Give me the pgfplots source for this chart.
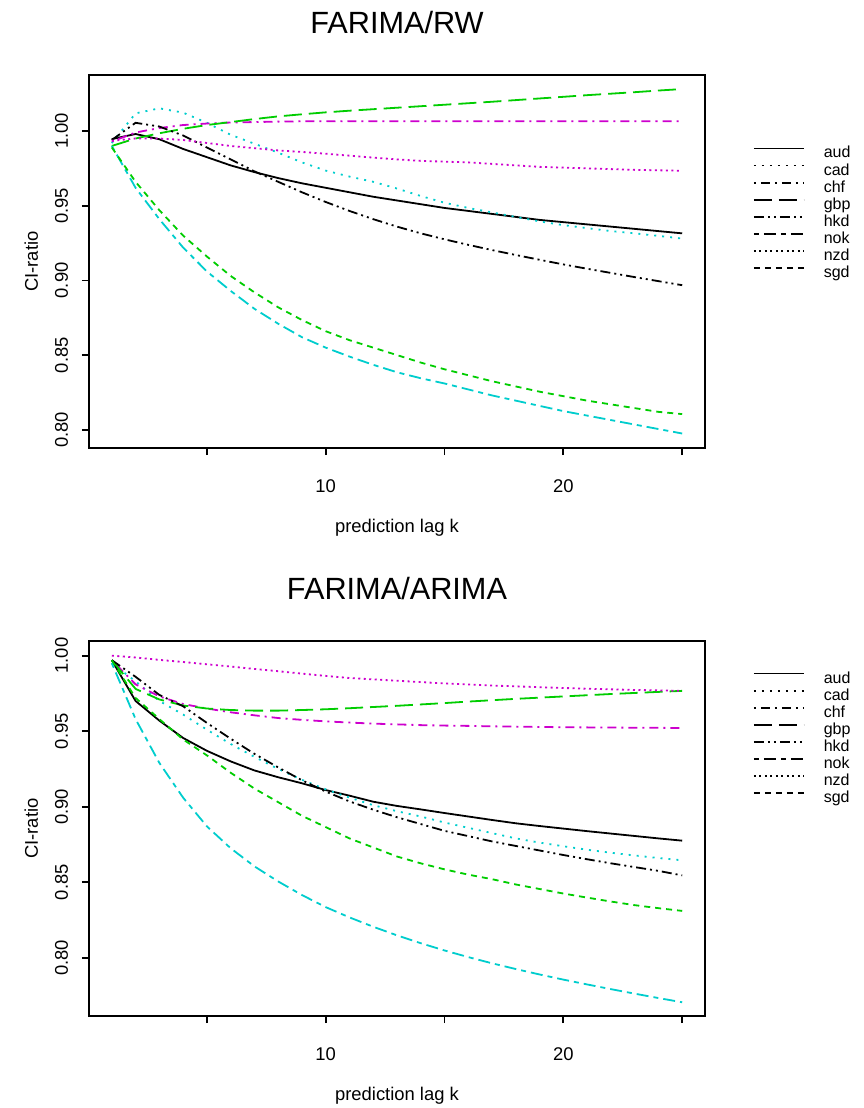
\documentclass[border=0pt]{standalone}
\usepackage{fontspec}
\setmainfont{Liberation Sans}
\usepackage{pgfplots}
\pgfplotsset{compat=1.18}
\usepackage{pgfplotstable}

\definecolor{rgreen}{RGB}{0,205,0}
\definecolor{rcyan}{RGB}{0,205,205}
\definecolor{rmagenta}{RGB}{205,0,205}

% CI-ratio by prediction lag, FARIMA against the random walk
\pgfplotstableread{
k  aud    cad    chf    gbp    hkd    nok    nzd    sgd
1  0.9946 0.9920 0.9930 0.9900 0.9940 0.9900 0.9935 0.9890
2  0.9980 1.0118 0.9990 0.9950 1.0055 0.9620 0.9950 0.9660
3  0.9945 1.0152 1.0020 0.9985 1.0030 0.9410 0.9950 0.9470
4  0.9880 1.0123 1.0040 1.0015 0.9970 0.9220 0.9940 0.9300
5  0.9825 1.0055 1.0050 1.0040 0.9890 0.9060 0.9920 0.9160
6  0.9770 0.9975 1.0057 1.0060 0.9810 0.8930 0.9900 0.9030
7  0.9725 0.9915 1.0060 1.0080 0.9730 0.8810 0.9885 0.8920
8  0.9685 0.9855 1.0063 1.0098 0.9660 0.8710 0.9870 0.8820
9  0.9650 0.9790 1.0065 1.0112 0.9590 0.8620 0.9860 0.8735
10 0.9620 0.9735 1.0065 1.0125 0.9525 0.8550 0.9848 0.8660
11 0.9590 0.9695 1.0066 1.0136 0.9465 0.8490 0.9835 0.8600
12 0.9560 0.9660 1.0066 1.0146 0.9410 0.8435 0.9822 0.8550
13 0.9535 0.9615 1.0066 1.0156 0.9360 0.8385 0.9810 0.8500
14 0.9510 0.9565 1.0066 1.0166 0.9315 0.8345 0.9800 0.8450
15 0.9485 0.9520 1.0066 1.0176 0.9275 0.8310 0.9795 0.8405
16 0.9465 0.9485 1.0066 1.0186 0.9238 0.8270 0.9790 0.8365
17 0.9445 0.9455 1.0066 1.0196 0.9203 0.8230 0.9780 0.8325
18 0.9425 0.9425 1.0066 1.0207 0.9170 0.8195 0.9770 0.8290
19 0.9405 0.9395 1.0066 1.0218 0.9138 0.8160 0.9760 0.8255
20 0.9390 0.9370 1.0066 1.0229 0.9107 0.8125 0.9755 0.8225
21 0.9375 0.9350 1.0066 1.0240 0.9078 0.8095 0.9750 0.8195
22 0.9360 0.9330 1.0066 1.0250 0.9050 0.8065 0.9745 0.8170
23 0.9345 0.9315 1.0066 1.0260 0.9022 0.8035 0.9740 0.8145
24 0.9330 0.9298 1.0066 1.0271 0.8995 0.8005 0.9737 0.8120
25 0.9315 0.9280 1.0066 1.0281 0.8968 0.7975 0.9734 0.8105
}\rwtab

% CI-ratio by prediction lag, FARIMA against ARIMA
\pgfplotstableread{
k  aud    cad    chf    gbp    hkd    nok    nzd    sgd
1  0.9970 0.9950 0.9970 0.9970 0.9970 0.9950 1.0000 0.9970
2  0.9700 0.9830 0.9810 0.9780 0.9860 0.9580 0.9988 0.9720
3  0.9570 0.9700 0.9730 0.9710 0.9740 0.9290 0.9972 0.9580
4  0.9455 0.9610 0.9680 0.9670 0.9665 0.9060 0.9958 0.9445
5  0.9370 0.9510 0.9650 0.9650 0.9555 0.8870 0.9943 0.9340
6  0.9300 0.9415 0.9625 0.9640 0.9450 0.8725 0.9928 0.9225
7  0.9240 0.9330 0.9605 0.9636 0.9350 0.8605 0.9912 0.9120
8  0.9195 0.9250 0.9587 0.9636 0.9260 0.8505 0.9897 0.9030
9  0.9155 0.9178 0.9575 0.9640 0.9175 0.8415 0.9881 0.8940
10 0.9110 0.9115 0.9565 0.9645 0.9100 0.8335 0.9866 0.8865
11 0.9073 0.9060 0.9557 0.9652 0.9035 0.8267 0.9852 0.8790
12 0.9033 0.9010 0.9550 0.9660 0.8980 0.8205 0.9843 0.8730
13 0.9005 0.8970 0.9545 0.9668 0.8930 0.8148 0.9834 0.8670
14 0.8982 0.8935 0.9540 0.9677 0.8885 0.8096 0.9825 0.8625
15 0.8958 0.8895 0.9537 0.9686 0.8840 0.8048 0.9816 0.8585
16 0.8935 0.8860 0.9535 0.9696 0.8805 0.8004 0.9809 0.8550
17 0.8912 0.8825 0.9532 0.9705 0.8770 0.7963 0.9802 0.8520
18 0.8890 0.8790 0.9530 0.9714 0.8740 0.7925 0.9797 0.8485
19 0.8872 0.8762 0.9528 0.9722 0.8710 0.7889 0.9791 0.8455
20 0.8855 0.8738 0.9526 0.9730 0.8680 0.7855 0.9786 0.8425
21 0.8838 0.8715 0.9525 0.9738 0.8652 0.7823 0.9781 0.8398
22 0.8822 0.8695 0.9524 0.9746 0.8625 0.7792 0.9777 0.8372
23 0.8806 0.8677 0.9523 0.9753 0.8600 0.7762 0.9773 0.8348
24 0.8790 0.8660 0.9522 0.9760 0.8575 0.7733 0.9770 0.8328
25 0.8775 0.8645 0.9521 0.9767 0.8545 0.7705 0.9767 0.8310
}\arimatab

% line types of the eight currencies
\tikzset{
  lw/.style={line width=1.8bp},
  lty-aud/.style={solid},
  lty-cad/.style={dash pattern=on 2bp off 6bp},
  lty-chf/.style={dash pattern=on 2bp off 5bp on 9bp off 5bp},
  lty-gbp/.style={dash pattern=on 18bp off 7bp},
  lty-hkd/.style={dash pattern=on 10bp off 4bp on 2bp off 4bp on 2bp off 4bp},
  lty-nok/.style={dash pattern=on 5bp off 5bp on 12bp off 5bp},
  lty-nzd/.style={dash pattern=on 2bp off 3.5bp},
  lty-sgd/.style={dash pattern=on 6bp off 5bp},
}

\newcommand{\labfont}{\fontsize{18.4bp}{22bp}\selectfont}

\pgfplotsset{
  ratio panel/.style={
    scale only axis,
    width=616bp,
    xmin=0.04, xmax=25.96,
    xtick={5,10,15,20,25},
    xticklabels={,10,,20,},
    ytick={0.80,0.85,0.90,0.95,1.00},
    yticklabels={0.80,0.85,0.90,0.95,1.00},
    xtick pos=bottom, ytick pos=left,
    tick align=outside,
    major tick length=7bp,
    axis line style={line width=1.8bp},
    every tick/.style={black, line width=1.8bp},
    xticklabel style={font=\labfont, anchor=base, inner sep=0pt},
    yticklabel style={font=\labfont, rotate=90, anchor=base, inner sep=0pt},
    xticklabel shift=37bp,
    yticklabel shift=14bp,
    xlabel={prediction lag k},
    ylabel={CI-ratio},
    every axis x label/.style={at={(axis description cs:0.5,0)}, anchor=base, yshift=-84bp, font=\labfont},
    every axis y label/.style={at={(axis description cs:-0.0828,0.5)}, rotate=90, anchor=base, font=\labfont},
    every axis title/.style={at={(axis description cs:0.5,1)}, anchor=base, yshift=42bp, font=\fontsize{30.7bp}{36bp}\selectfont},
    legend image code/.code={\draw[line width=1.8bp,##1] (0bp,5.5bp) -- (50bp,5.5bp);},
    legend cell align=left,
    legend style={draw=none, fill=none, inner sep=0pt, outer sep=0pt,
      font=\fontsize{16bp}{19bp}\selectfont,
      nodes={inner sep=0pt, text height=12bp, text depth=4bp},
      row sep=1.1bp, column sep=19bp},
    every axis plot/.append style={lw, no markers},
  },
}

\newcommand{\currencylegend}{%
  \addlegendimage{black,lty-aud}\addlegendentry{aud}
  \addlegendimage{black,lty-cad}\addlegendentry{cad}
  \addlegendimage{black,lty-chf}\addlegendentry{chf}
  \addlegendimage{black,lty-gbp}\addlegendentry{gbp}
  \addlegendimage{black,lty-hkd}\addlegendentry{hkd}
  \addlegendimage{black,lty-nok}\addlegendentry{nok}
  \addlegendimage{black,lty-nzd}\addlegendentry{nzd}
  \addlegendimage{black,lty-sgd}\addlegendentry{sgd}}

\newcommand{\currencylines}[1]{%
  \addplot[black,    lty-aud, forget plot] table[x=k,y=aud] {#1};
  \addplot[rcyan,    lty-cad, forget plot] table[x=k,y=cad] {#1};
  \addplot[rmagenta, lty-chf, forget plot] table[x=k,y=chf] {#1};
  \addplot[rgreen,   lty-gbp, forget plot] table[x=k,y=gbp] {#1};
  \addplot[black,    lty-hkd, forget plot] table[x=k,y=hkd] {#1};
  \addplot[rcyan,    lty-nok, forget plot] table[x=k,y=nok] {#1};
  \addplot[rmagenta, lty-nzd, forget plot] table[x=k,y=nzd] {#1};
  \addplot[rgreen,   lty-sgd, forget plot] table[x=k,y=sgd] {#1};}

\begin{document}
\begin{tikzpicture}
\useasboundingbox (0bp,0bp) rectangle (864bp,-1108bp);

\begin{axis}[ratio panel,
  at={(89bp,-75bp)}, anchor=north west,
  height=373bp,
  ymin=0.7878, ymax=1.0375,
  title={FARIMA/RW},
  legend style={at={(axis description cs:1.0779,0.8097)}, anchor=north west},
]
\currencylegend
\currencylines{\rwtab}
\end{axis}

\begin{axis}[ratio panel,
  at={(89bp,-641bp)}, anchor=north west,
  height=375bp,
  ymin=0.7614, ymax=1.0097,
  title={FARIMA/ARIMA},
  legend style={at={(axis description cs:1.0779,0.92)}, anchor=north west},
]
\currencylegend
\currencylines{\arimatab}
\end{axis}
\end{tikzpicture}
\end{document}
